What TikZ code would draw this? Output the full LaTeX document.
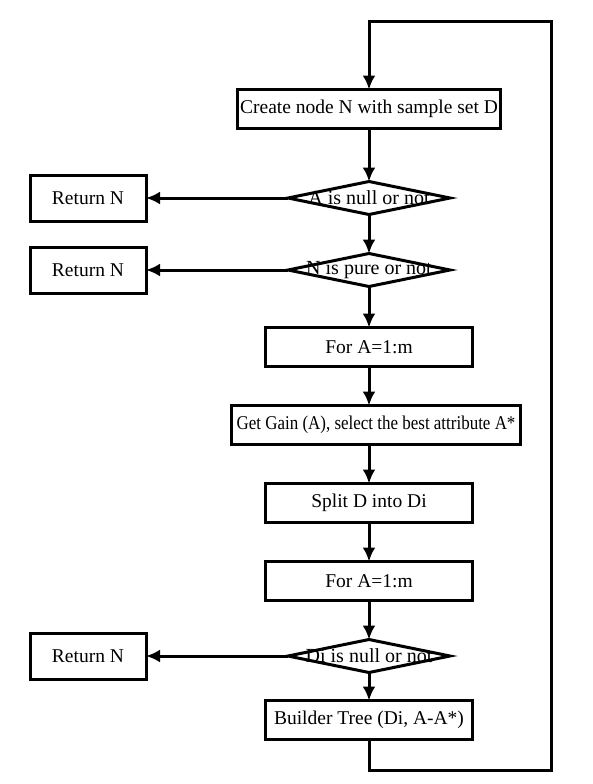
\documentclass[tikz,border=0pt]{standalone}
\usepackage{fontspec}
\usepackage{graphicx}
\setmainfont{Liberation Serif}
\usetikzlibrary{arrows.meta,positioning,shapes.geometric}

\begin{document}
\begin{tikzpicture}[
  x=1pt, y=-1pt,
  node distance=39pt,
  box/.style={rectangle, draw, line width=3pt, outer sep=0pt, inner sep=2.5pt, minimum width=207pt, minimum height=39pt, font=\fontsize{19.5}{22}\selectfont},
  retbox/.style={box, minimum width=116pt, minimum height=46pt},
  decision/.style={diamond, draw, line width=3pt, outer sep=0pt, inner sep=0pt, minimum width=162pt, minimum height=33pt},
  dlabel/.style={inner sep=0pt, font=\fontsize{20}{22}\selectfont},
  arrow/.style={-{Latex[length=14pt,width=13pt]}, line width=3pt},
]
  \useasboundingbox (0,0) rectangle (593,784);
  \node[box] (create) at (369,109) {Create node N with sample set D};
  \node[decision, below=53pt of create, label={[dlabel]center:A is null or not}] (d1) {};
  \node[decision, below=of d1, label={[dlabel]center:N is pure or not}] (d2) {};
  \node[box, below=41pt of d2] (for1) {For A=1:m};
  \node[box, below=of for1, xshift=7pt, inner xsep=5.5pt] (gain) {\scalebox{0.87}[1]{Get Gain (A), select the best attribute A*}};
  \node[box, below=of gain, xshift=-7pt] (split) {Split D into Di};
  \node[box, below=of split] (for2) {For A=1:m};
  \node[decision, below=of for2, label={[dlabel]center:Di is null or not}] (d3) {};
  \node[box, below=28pt of d3] (build) {Builder Tree (Di, A-A*)};
  \node[retbox, left=142pt of d1] (ret1) {Return N};
  \node[retbox, left=142pt of d2] (ret2) {Return N};
  \node[retbox, left=142pt of d3] (ret3) {Return N};
  \coordinate (loopbr) at (551,770);
  \coordinate (looptr) at (551,22);
  \draw[arrow] (create) -- (d1);
  \draw[arrow] (d1) -- (d2);
  \draw[arrow] (d2) -- (for1);
  \draw[arrow] (for1) -- (for1 |- gain.north);
  \draw[arrow] (split |- gain.south) -- (split);
  \draw[arrow] (split) -- (for2);
  \draw[arrow] (for2) -- (d3);
  \draw[arrow] (d3) -- (build);
  \draw[arrow] (d1) -- (ret1);
  \draw[arrow] (d2) -- (ret2);
  \draw[arrow] (d3) -- (ret3);
  \draw[arrow] (build.south) |- (loopbr) -- (looptr) -| (create.north);
\end{tikzpicture}
\end{document}
